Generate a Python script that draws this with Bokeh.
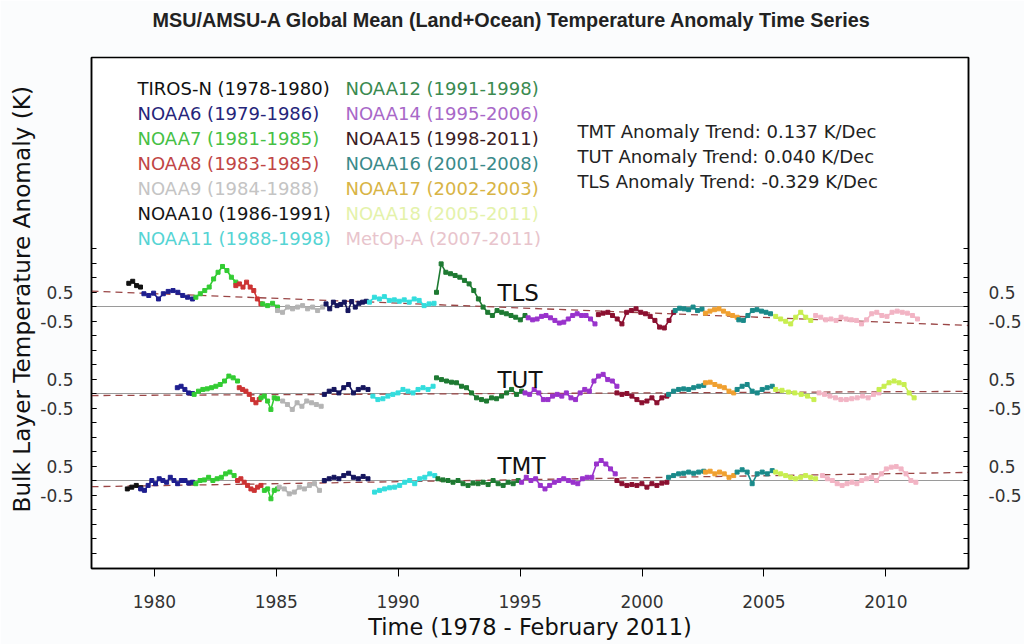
import numpy as np
from bokeh.plotting import figure
from bokeh.models import Range1d, LinearAxis, FixedTicker, Label, CustomJSTickFormatter, Title
from bokeh.embed import file_html
from bokeh.resources import INLINE

# ---------------- data ----------------
SAT_NAMES = ["TIROS-N", "NOAA6", "NOAA7", "NOAA8", "NOAA9", "NOAA10", "NOAA11",
             "NOAA12", "NOAA14", "NOAA15", "NOAA16", "NOAA17", "NOAA18", "MetOp-A"]
SAT_PERIODS = ["1978-1980", "1979-1986", "1981-1985", "1983-1985", "1984-1988", "1986-1991",
               "1988-1998", "1991-1998", "1995-2006", "1998-2011", "2001-2008", "2002-2003",
               "2005-2011", "2007-2011"]
SAT_COLORS = ["#111111", "#1f1f8f", "#33cc33", "#cc3333", "#b4b4b4", "#16165e", "#33dddd",
              "#1e7a32", "#9933cc", "#8b1030", "#1a8a8a", "#f0a030", "#c8ee50", "#f2b4c4"]
LEGEND_TEXT_COLORS = ["#111111", "#25257a", "#45c045", "#c04545", "#c4c4c4", "#151515", "#55d4d4",
                      "#3a8a50", "#a868c8", "#3a2024", "#3a8a8a", "#d8b445", "#e4f2aa", "#e8c4cc"]

LAYERS = ["TMT", "TUT", "TLS"]
LAYER_OFFSETS = [0.0, 3.0, 6.0]          # vertical stacking of the three series (K)
TREND_SLOPES = [0.137, 0.040, -0.329]    # K / decade
TREND_PIVOTS = [1993.0, 1995.0, 1993.5]  # year where each trend crosses zero

# (satellite, first year, last year, anomalies in K)
TLS_SEGMENTS = [
    ("TIROS-N", 1978.95, 1979.43, [0.80, 0.87, 0.72, 0.67]),
    ("NOAA6", 1979.57, 1981.56, [0.44, 0.38, 0.46, 0.26, 0.44, 0.52, 0.55, 0.49, 0.38, 0.32, 0.26]),
    ("NOAA7", 1981.70, 1983.34, [0.32, 0.44, 0.55, 0.67, 0.95, 1.18, 1.38, 1.24, 1.01, 0.84]),
    ("NOAA8", 1983.34, 1984.37, [0.72, 0.78, 0.67, 0.84, 0.67, 0.55, 0.26, 0.09]),
    ("NOAA7", 1984.44, 1985.05, [0.09, 0.03, 0.11, -0.02]),
    ("NOAA9", 1985.05, 1986.90, [-0.14, -0.20, -0.02, -0.08, -0.02, 0.03, -0.08, -0.02, -0.14, -0.02]),
    ("NOAA10", 1987.04, 1988.69, [0.09, -0.08, 0.15, 0.03, 0.07, 0.15, -0.14, 0.17, -0.02, 0.11, 0.15, 0.18]),
    ("NOAA11", 1988.82, 1991.47, [0.15, 0.32, 0.26, 0.34, 0.21, 0.23, 0.18, 0.23, 0.15, 0.26, 0.21, 0.03, 0.09, 0.11]),
    ("NOAA12", 1991.57, 1995.20, [0.49, 1.47, 1.18, 1.13, 1.07, 1.01, 0.90, 0.78, 0.55, 0.26, -0.02, -0.20,
                                  -0.31, -0.14, -0.20, -0.25, -0.31, -0.37, -0.46, -0.31]),
    ("NOAA14", 1995.33, 1998.07, [-0.39, -0.46, -0.43, -0.34, -0.31, -0.39, -0.48, -0.57, -0.54, -0.43,
                                  -0.31, -0.25, -0.31, -0.31, -0.43, -0.60]),
    ("NOAA15", 1998.21, 2001.30, [-0.28, -0.23, -0.20, -0.31, -0.43, -0.60, -0.20, -0.14, -0.08, -0.20,
                                  -0.25, -0.34, -0.48, -0.71, -0.74, -0.48, -0.20]),
    ("NOAA16", 2001.36, 2002.46, [-0.14, -0.06, -0.08, -0.11, -0.02, -0.14, -0.09]),
    ("NOAA17", 2002.60, 2003.90, [-0.23, -0.16, -0.11, -0.08, -0.16, -0.25, -0.31, -0.37]),
    ("NOAA16", 2003.97, 2005.27, [-0.46, -0.48, -0.31, -0.14, -0.11, -0.16, -0.20, -0.25]),
    ("NOAA18", 2005.48, 2006.92, [-0.34, -0.43, -0.51, -0.60, -0.37, -0.20, -0.37, -0.48]),
    ("MetOp-A", 2007.12, 2011.30, [-0.31, -0.37, -0.46, -0.43, -0.48, -0.37, -0.43, -0.46, -0.48, -0.60,
                                   -0.46, -0.25, -0.20, -0.31, -0.34, -0.20, -0.16, -0.20, -0.23, -0.31, -0.43]),
]

TUT_SEGMENTS = [
    ("NOAA6", 1980.94, 1981.56, [0.20, 0.25, 0.14, 0.02, 0.00]),
    ("NOAA7", 1981.63, 1983.41, [-0.03, 0.08, 0.14, 0.16, 0.20, 0.25, 0.31, 0.43, 0.60, 0.54, 0.43]),
    ("NOAA8", 1983.48, 1984.30, [0.20, 0.14, 0.08, -0.03, -0.21, -0.32, -0.21]),
    ("NOAA7", 1984.37, 1985.05, [-0.15, -0.09, -0.26, -0.55, -0.15, -0.18]),
    ("NOAA9", 1985.26, 1986.84, [-0.26, -0.38, -0.55, -0.32, -0.44, -0.26, -0.32, -0.38, -0.44]),
    ("NOAA10", 1986.97, 1988.76, [-0.03, 0.08, 0.14, 0.02, 0.20, 0.31, 0.02, 0.14, 0.20, 0.14]),
    ("NOAA11", 1988.96, 1991.43, [-0.09, -0.21, -0.18, -0.09, -0.03, 0.02, 0.14, 0.08, 0.02, 0.14, 0.20, 0.14, 0.25]),
    ("NOAA12", 1991.57, 1995.06, [0.54, 0.48, 0.43, 0.39, 0.37, 0.25, 0.20, 0.02, -0.15, -0.21, -0.26, -0.15,
                                  -0.18, -0.09, 0.02, 0.14, -0.03, 0.08]),
    ("NOAA14", 1995.20, 1998.97, [0.02, -0.03, 0.14, 0.02, -0.21, -0.21, -0.09, -0.03, -0.09, 0.02, -0.15,
                                  -0.21, 0.02, 0.14, 0.08, 0.43, 0.60, 0.66, 0.48, 0.43, 0.25]),
    ("NOAA15", 1998.97, 2001.02, [0.02, -0.03, 0.00, -0.09, -0.21, -0.32, -0.26, -0.15, -0.32, -0.15, -0.09]),
    ("NOAA16", 2001.09, 2002.53, [-0.03, 0.08, 0.14, 0.16, 0.14, 0.20, 0.25, 0.28]),
    ("NOAA17", 2002.60, 2003.76, [0.37, 0.39, 0.31, 0.25, 0.20, 0.08, 0.02]),
    ("NOAA16", 2003.90, 2005.34, [0.14, 0.25, 0.31, 0.08, 0.02, 0.14, 0.20, 0.25]),
    ("NOAA18", 2005.48, 2007.05, [0.14, 0.11, 0.05, 0.02, -0.03, -0.09, -0.21]),
    ("MetOp-A", 2007.26, 2009.72, [0.02, -0.03, -0.09, -0.15, -0.21, -0.21, -0.18, -0.15, -0.09, -0.15, -0.03, 0.02]),
    ("NOAA18", 2009.72, 2011.16, [0.14, 0.25, 0.37, 0.43, 0.37, 0.31, 0.02, -0.15]),
]

TMT_SEGMENTS = [
    ("TIROS-N", 1978.89, 1979.44, [-0.29, -0.23, -0.17, -0.25]),
    ("NOAA6", 1979.44, 1981.56, [-0.29, -0.34, -0.17, 0.00, -0.11, 0.06, 0.00, -0.06, 0.11, 0.00, -0.11,
                                 0.00, 0.00, -0.09, -0.06]),
    ("NOAA7", 1981.70, 1983.27, [-0.11, 0.00, 0.02, 0.11, 0.00, 0.06, 0.11, 0.23, 0.29, 0.17]),
    ("NOAA8", 1983.41, 1984.37, [0.00, 0.06, -0.06, -0.17, -0.29, -0.34, -0.23, -0.17]),
    ("NOAA7", 1984.51, 1985.05, [-0.34, -0.29, -0.63, -0.34, -0.29]),
    ("NOAA9", 1985.12, 1986.77, [-0.23, -0.29, -0.46, -0.40, -0.23, -0.29, -0.17, -0.11, -0.34]),
    ("NOAA10", 1986.97, 1988.76, [0.00, 0.06, 0.11, 0.06, 0.17, 0.25, 0.11, 0.06, 0.14, 0.06]),
    ("NOAA11", 1989.03, 1991.50, [-0.40, -0.34, -0.29, -0.25, -0.23, -0.17, -0.06, 0.00, -0.11, 0.06, 0.11, 0.23, 0.17]),
    ("NOAA12", 1991.63, 1994.92, [0.06, 0.02, 0.00, -0.06, 0.00, -0.11, -0.17, -0.09, -0.11, -0.06, -0.14,
                                  0.00, -0.11, -0.17, -0.06, -0.11, 0.00]),
    ("NOAA14", 1995.06, 1998.90, [-0.06, 0.11, 0.00, 0.06, -0.17, -0.29, -0.17, -0.06, 0.00, 0.06, 0.00,
                                  -0.06, -0.11, 0.06, 0.11, 0.11, 0.57, 0.69, 0.57, 0.40, 0.23]),
    ("NOAA15", 1998.97, 2001.02, [0.00, -0.11, -0.17, -0.14, -0.17, -0.11, -0.23, -0.11, -0.17, -0.09, -0.06]),
    ("NOAA16", 2001.09, 2002.53, [0.11, 0.17, 0.23, 0.25, 0.29, 0.25, 0.29, 0.32]),
    ("NOAA17", 2002.60, 2003.76, [0.29, 0.32, 0.23, 0.29, 0.23, 0.11, 0.17]),
    ("NOAA16", 2003.90, 2005.34, [0.29, 0.37, 0.29, -0.11, 0.23, 0.29, 0.23, 0.34]),
    ("NOAA18", 2005.48, 2007.12, [0.29, 0.23, 0.17, 0.11, 0.06, 0.11, 0.17, 0.11, 0.06]),
    ("MetOp-A", 2007.40, 2011.23, [0.17, 0.06, 0.00, -0.11, -0.17, -0.11, -0.06, -0.11, 0.00, 0.06, 0.11,
                                   0.00, 0.23, 0.40, 0.46, 0.48, 0.40, 0.23, 0.00, -0.06]),
]
LAYER_SEGMENTS = [TMT_SEGMENTS, TUT_SEGMENTS, TLS_SEGMENTS]

X_TICKS = [1980, 1985, 1990, 1995, 2000, 2005, 2010]
TREND_TEXTS = ["TMT Anomaly Trend: 0.137 K/Dec",
               "TUT Anomaly Trend: 0.040 K/Dec",
               "TLS Anomaly Trend: -0.329 K/Dec"]
TITLE = "MSU/AMSU-A Global Mean (Land+Ocean) Temperature Anomaly Time Series"
X_TITLE = "Time (1978 - February 2011)"
Y_TITLE = "Bulk Layer Temperature Anomaly (K)"

# ---------------- layout constants (canvas pixels) ----------------
W, H = 1024, 644
FL, FR, FT, FB = 91, 968, 57, 568          # frame edges
X0, X1 = 1977.42, 2013.39
PX_PER_K = 29.0
BASE_TMT = 480.0                           # y of TMT zero line
Y0 = -(FB - BASE_TMT) / PX_PER_K
Y1 = (BASE_TMT - FT) / PX_PER_K


def dx(cx):
    return X0 + (cx - FL) * (X1 - X0) / (FR - FL)


def dy(cy):
    return (BASE_TMT - cy) / PX_PER_K


FONT = "DejaVu Sans"
color_of = dict(zip(SAT_NAMES, SAT_COLORS))

p = figure(width=W, height=H, x_range=Range1d(X0, X1), y_range=Range1d(Y0, Y1),
           output_backend="svg", toolbar_location=None,
           min_border_left=FL, min_border_right=W - FR,
           min_border_top=FT, min_border_bottom=H - FB)
p.grid.visible = False
p.background_fill_color = "white"
p.border_fill_color = "#fbfcfd"
p.outline_line_color = "black"
p.outline_line_width = 1.5

# chart title (an empty spacer title sits between it and the frame)
p.title.text = TITLE
p.title.text_font = "Liberation Sans"
p.title.text_font_size = "19.8px"
p.title.text_font_style = "bold"
p.title.text_color = "#222222"
p.title.align = "left"
p.title.offset = 61
p.title.vertical_align = "bottom"
p.title.standoff = 6
p.add_layout(Title(text=" ", text_font_size="20px", standoff=0), "above")

# y title on the left
p.add_layout(Title(text=Y_TITLE, align="left", offset=56, standoff=6,
                   text_font=FONT, text_font_size="23.2px", text_font_style="normal",
                   text_color="#111111"), "left")

# x axis
xa = p.xaxis[0]
xa.ticker = FixedTicker(ticks=X_TICKS)
xa.major_tick_in = 0
xa.major_tick_out = 8
xa.minor_tick_out = 0
xa.minor_tick_in = 0
xa.axis_line_width = 1.5
xa.major_label_text_font = FONT
xa.major_label_text_font_size = "17px"
xa.major_label_text_color = "#333333"
xa.major_label_standoff = 18
xa.axis_label = X_TITLE
xa.axis_label_text_font = FONT
xa.axis_label_text_font_size = "22.5px"
xa.axis_label_text_font_style = "normal"
xa.axis_label_text_color = "#111111"
xa.axis_label_standoff = 3

# y axes (labels at +/-0.5 K around each layer's zero line)
major = []
for off in LAYER_OFFSETS:
    major += [off - 0.5, off + 0.5]
minor = list(np.arange(-2.5, 8.01, 0.5))
fmt_code = "return (tick - 3*Math.round(tick/3)).toFixed(1);"


def style_y(ax, standoff):
    ax.ticker = FixedTicker(ticks=major, minor_ticks=minor)
    ax.formatter = CustomJSTickFormatter(code=fmt_code)
    ax.major_tick_in = 5
    ax.major_tick_out = 0
    ax.minor_tick_in = 5
    ax.minor_tick_out = 0
    ax.axis_line_width = 1.5
    ax.major_label_text_font = FONT
    ax.major_label_text_font_size = "17px"
    ax.major_label_text_color = "#333333"
    ax.major_label_standoff = standoff


style_y(p.yaxis[0], 18)
ra = LinearAxis()
style_y(ra, 20)
p.add_layout(ra, "right")

# zero lines and trend lines
for name, off, slope, pivot in zip(LAYERS, LAYER_OFFSETS, TREND_SLOPES, TREND_PIVOTS):
    p.line([X0, X1], [off, off], line_color="#9a9a9a", line_width=1.2)
    ty = [off + slope / 10.0 * (X0 - pivot), off + slope / 10.0 * (X1 - pivot)]
    p.line([X0, X1], ty, line_color="#9a4646", line_width=1.3, line_dash="7 5")

# data series
for off, segs in zip(LAYER_OFFSETS, LAYER_SEGMENTS):
    for sat, start, end, vals in segs:
        xs = np.linspace(start, end, len(vals))
        ys = off + np.asarray(vals)
        c = color_of[sat]
        p.line(xs, ys, line_color=c, line_width=1.6)
        p.scatter(xs, ys, marker="square", size=4, fill_color=c, line_color=c)

# series names
for name, cy in zip(LAYERS, [465, 379, 292]):
    p.add_layout(Label(x=dx(497), y=dy(cy), text=name, text_font=FONT,
                       text_font_size="23px", text_color="#111111",
                       text_baseline="middle", text_align="left"))

# satellite legend (two columns of coloured text)
for i, (nm, per, tc) in enumerate(zip(SAT_NAMES, SAT_PERIODS, LEGEND_TEXT_COLORS)):
    col, row = divmod(i, 7)
    cx = 137 if col == 0 else 345
    cy = 88 + row * 25
    p.add_layout(Label(x=dx(cx), y=dy(cy), text=f"{nm} ({per})", text_font=FONT,
                       text_font_size="18px", text_color=tc,
                       text_baseline="middle", text_align="left"))

# trend texts
for i, t in enumerate(TREND_TEXTS):
    p.add_layout(Label(x=dx(577), y=dy(131 + i * 25), text=t, text_font=FONT,
                       text_font_size="18px", text_color="#222222",
                       text_baseline="middle", text_align="left"))

open("out.html", "w").write(file_html(p, INLINE))
